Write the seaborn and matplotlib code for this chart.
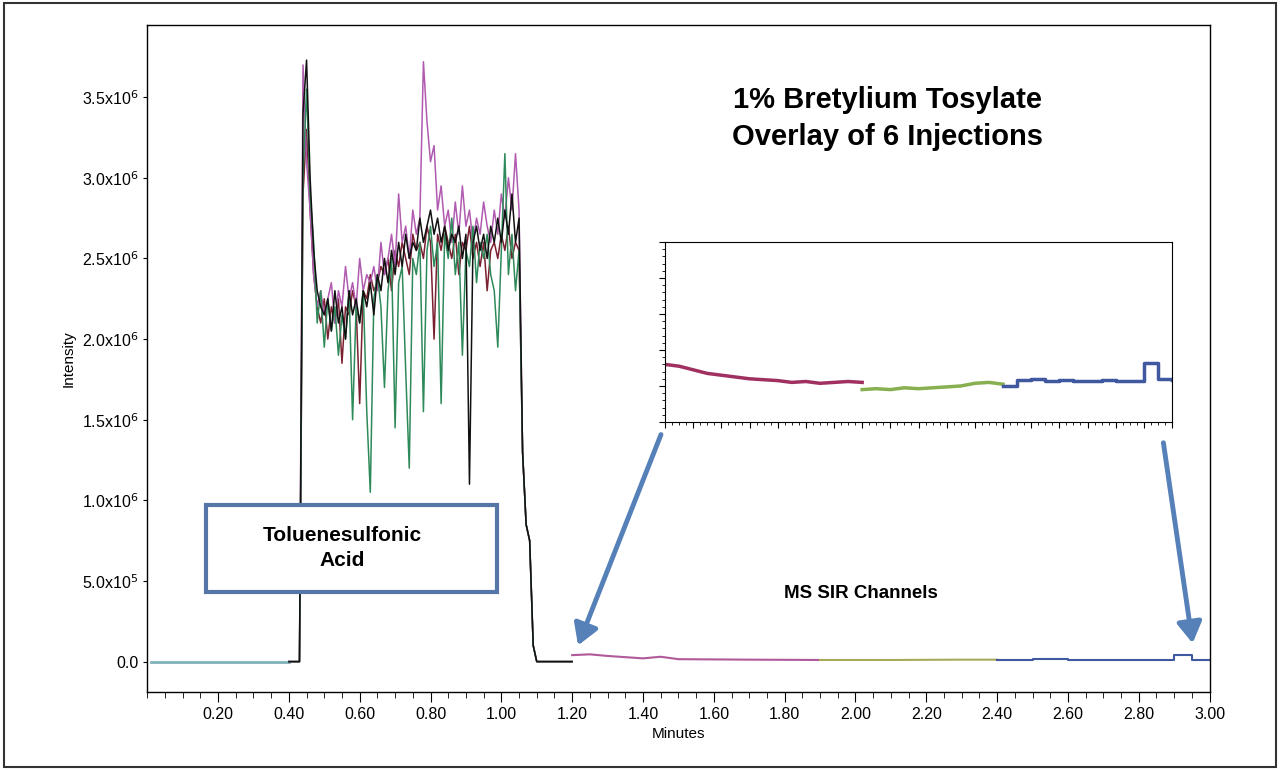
import numpy as np
import pandas as pd
import matplotlib
matplotlib.use("Agg")
import matplotlib.pyplot as plt
import seaborn as sns
from matplotlib.patches import Rectangle, FancyArrowPatch
from matplotlib.ticker import MultipleLocator, FixedLocator

plt.rcParams["font.family"] = "Liberation Sans"

# plateau sampling grid, minutes (0.44 .. 1.05)
plateau_t = [round(0.44 + 0.01 * i, 2) for i in range(62)]

# intensities in units of 1e6
black_v = [3.40, 3.73, 3.0, 2.55, 2.3, 2.2, 2.15, 2.25, 2.05, 2.3, 2.1, 2.2, 2.0, 2.3, 2.15, 2.25,
           2.1, 2.3, 2.2, 2.35, 2.15, 2.4, 2.3, 2.5, 2.35, 2.55, 2.4, 2.6, 2.45, 2.65, 2.5, 2.6,
           2.55, 2.75, 2.6, 2.7, 2.8, 2.65, 2.75, 2.6, 2.7, 2.55, 2.65, 2.6, 2.7, 2.5, 2.65, 1.1,
           2.6, 2.7, 2.55, 2.65, 2.5, 2.7, 2.6, 2.75, 2.6, 2.8, 2.65, 2.9, 2.6, 2.75]
green_v = [3.0, 3.55, 2.9, 2.6, 2.1, 2.3, 1.95, 2.25, 2.05, 2.2, 1.9, 2.15, 2.0, 2.3, 1.5, 2.2,
           2.1, 2.3, 1.55, 1.05, 2.25, 2.4, 2.2, 1.7, 2.3, 2.5, 1.45, 2.35, 2.45, 1.8, 1.2, 2.5,
           2.4, 2.6, 1.55, 2.55, 2.7, 2.45, 2.6, 1.6, 2.65, 2.5, 2.75, 2.4, 2.6, 1.9, 2.55, 2.45,
           2.7, 2.35, 2.6, 2.5, 2.65, 2.4, 2.3, 1.95, 2.55, 3.15, 2.4, 2.65, 2.3, 2.55]
magenta_v = [3.7, 3.1, 2.8, 2.4, 2.2, 2.3, 2.15, 2.25, 2.35, 2.1, 2.3, 2.2, 2.45, 2.25, 2.35, 2.2,
             2.5, 2.3, 2.4, 2.35, 2.45, 2.3, 2.6, 2.4, 2.5, 2.65, 2.45, 2.9, 2.6, 2.7, 2.5, 2.8,
             2.65, 2.75, 3.72, 3.35, 3.1, 3.2, 2.8, 2.95, 2.7, 2.8, 2.6, 2.85, 2.65, 2.95, 2.7, 2.8,
             2.6, 2.75, 2.65, 2.85, 2.7, 2.6, 2.8, 2.65, 2.9, 2.75, 3.0, 2.8, 3.15, 2.8]
maroon_v = [2.9, 3.3, 2.8, 2.4, 2.2, 2.1, 2.25, 2.0, 2.2, 2.1, 2.25, 1.85, 2.2, 2.15, 2.3, 2.2,
            1.6, 2.3, 2.25, 2.4, 2.3, 2.35, 2.45, 2.4, 2.5, 2.3, 2.55, 2.45, 2.6, 2.5, 2.4, 2.65,
            2.55, 2.6, 2.5, 2.7, 2.6, 2.0, 2.65, 2.55, 2.7, 2.6, 2.5, 2.65, 2.4, 2.6, 2.55, 2.7,
            2.5, 2.6, 2.45, 2.6, 2.3, 2.55, 2.6, 2.5, 2.65, 2.55, 2.7, 2.5, 2.6, 2.55]

lead_t = [0.40, 0.43]
lead_v = [0.0, 0.0]
tail_t = [1.06, 1.07, 1.08, 1.09, 1.10, 1.20]
tail_v = [1.3, 0.85, 0.75, 0.1, 0.0, 0.0]

baseline_t = [0.01, 0.40]
baseline_v = [0.0, 0.0]

# SIR channels in main plot (1e6)
sir_mag_t = [1.20, 1.25, 1.30, 1.40, 1.45, 1.50, 1.70, 1.90]
sir_mag_v = [0.04, 0.045, 0.035, 0.02, 0.03, 0.015, 0.012, 0.01]
sir_grn_t = [1.90, 2.10, 2.30, 2.40]
sir_grn_v = [0.01, 0.01, 0.012, 0.012]
sir_blu_t = [2.40, 2.50, 2.60, 2.80, 2.90, 2.95, 3.00]
sir_blu_v = [0.012, 0.015, 0.012, 0.012, 0.04, 0.012, 0.012]

# inset (relative scale)
in_mag_t = [round(1.20 + 0.05 * i, 2) for i in range(15)]
in_mag_v = [0.32, 0.31, 0.29, 0.27, 0.26, 0.25, 0.24, 0.235, 0.23, 0.22, 0.225, 0.215, 0.22, 0.225, 0.22]
in_grn_t = [round(1.90 + 0.05 * i, 2) for i in range(11)]
in_grn_v = [0.18, 0.185, 0.18, 0.19, 0.185, 0.19, 0.195, 0.2, 0.215, 0.22, 0.21]
in_blu_t = [round(2.40 + 0.05 * i, 2) for i in range(13)]
in_blu_v = [0.2, 0.235, 0.24, 0.23, 0.235, 0.225, 0.23, 0.235, 0.23, 0.23, 0.33, 0.24, 0.235]

x_ticks = [0.20, 0.40, 0.60, 0.80, 1.00, 1.20, 1.40, 1.60, 1.80, 2.00, 2.20, 2.40, 2.60, 2.80, 3.00]
y_ticks = [0, 0.5, 1.0, 1.5, 2.0, 2.5, 3.0, 3.5]
y_labels = ["0.0", r"5.0x10$^5$", r"1.0x10$^6$", r"1.5x10$^6$", r"2.0x10$^6$",
            r"2.5x10$^6$", r"3.0x10$^6$", r"3.5x10$^6$"]

fig = plt.figure(figsize=(12.8, 7.7), dpi=100)
fig.patches.append(Rectangle((0.003, 0.004), 0.994, 0.992, transform=fig.transFigure,
                             fill=False, edgecolor="#333333", linewidth=1.5))
ax = fig.add_axes([0.115, 0.101, 0.83, 0.867])


def trace(vals, color, lw=1.1, a=ax):
    df = pd.DataFrame({"t": lead_t + plateau_t + tail_t, "v": lead_v + vals + tail_v})
    sns.lineplot(data=df, x="t", y="v", color=color, lw=lw, ax=a, estimator=None, sort=False)


sns.lineplot(x=baseline_t, y=baseline_v, color="#7fb2b8", lw=2, ax=ax, estimator=None)
trace(maroon_v, "#7a2030")
trace(magenta_v, "#b05ab0")
trace(green_v, "#2e8a5a")
trace(black_v, "#111111")
sns.lineplot(x=sir_mag_t, y=sir_mag_v, color="#b05a9a", lw=1.5, ax=ax, estimator=None)
sns.lineplot(x=sir_grn_t, y=sir_grn_v, color="#a8aa5a", lw=1.5, ax=ax, estimator=None)
sns.lineplot(x=sir_blu_t, y=sir_blu_v, color="#4058a0", lw=1.5, ax=ax, estimator=None,
             drawstyle="steps-post")

ax.set_xlim(0, 3.0)
ax.set_ylim(-0.19, 3.95)
ax.xaxis.set_major_locator(FixedLocator(x_ticks))
ax.set_xticklabels([f"{t:.2f}" for t in x_ticks])
ax.xaxis.set_minor_locator(MultipleLocator(0.05))
ax.set_yticks(y_ticks)
ax.set_yticklabels(y_labels)
ax.tick_params(axis="both", which="major", length=7, labelsize=11.5, direction="out")
ax.tick_params(axis="y", which="major", length=3)
ax.tick_params(axis="both", which="minor", length=4, direction="out")
ax.set_xlabel("Minutes", fontsize=11)
ax.set_ylabel("Intensity", fontsize=11)
for s in ax.spines.values():
    s.set_linewidth(1.0)

ax.text(0.697, 0.86, "1% Bretylium Tosylate\nOverlay of 6 Injections", transform=ax.transAxes,
        ha="center", va="center", fontsize=21, fontweight="bold", linespacing=1.4)
ax.text(0.672, 0.148, "MS SIR Channels", transform=ax.transAxes, ha="center", va="center",
        fontsize=13.5, fontweight="bold")

# label box
fig.patches.append(Rectangle((206 / 1280, 1 - 592 / 770), 291 / 1280, 87 / 770,
                             transform=fig.transFigure, facecolor="white",
                             edgecolor="#5577a8", linewidth=3, zorder=5))
fig.text(342 / 1280, 1 - 548 / 770, "Toluenesulfonic\nAcid", ha="center", va="center",
         fontsize=15, fontweight="bold", zorder=6, linespacing=1.4)

# inset
ins = fig.add_axes([665 / 1280, 1 - 422 / 770, 507 / 1280, 180 / 770])
sns.lineplot(x=in_mag_t, y=in_mag_v, color="#a03060", lw=2.5, ax=ins, estimator=None)
sns.lineplot(x=in_grn_t, y=in_grn_v, color="#88b050", lw=2.5, ax=ins, estimator=None)
sns.lineplot(x=in_blu_t, y=in_blu_v, color="#4058a0", lw=2.5, ax=ins, estimator=None,
             drawstyle="steps-post")
ins.set_xlim(1.2, 3.0)
ins.set_ylim(0, 1)
ins.xaxis.set_major_locator(MultipleLocator(0.1))
ins.xaxis.set_minor_locator(MultipleLocator(0.025))
ins.yaxis.set_major_locator(MultipleLocator(0.2))
ins.yaxis.set_minor_locator(MultipleLocator(0.04))
ins.tick_params(which="both", direction="out", labelbottom=False, labelleft=False)
ins.tick_params(which="major", length=4)
ins.tick_params(which="minor", length=2)
ins.set_xlabel("")
ins.set_ylabel("")

for (x0, y0), (x1, y1) in [((662, 432), (577, 648)), ((1163, 440), (1193, 646))]:
    fig.patches.append(FancyArrowPatch((x0 / 1280, 1 - y0 / 770), (x1 / 1280, 1 - y1 / 770),
                                       transform=fig.transFigure,
                                       arrowstyle="-|>,head_length=5,head_width=3",
                                       color="#5580b8", linewidth=3.5, mutation_scale=2.5))

fig.savefig("out.png", dpi=100)
